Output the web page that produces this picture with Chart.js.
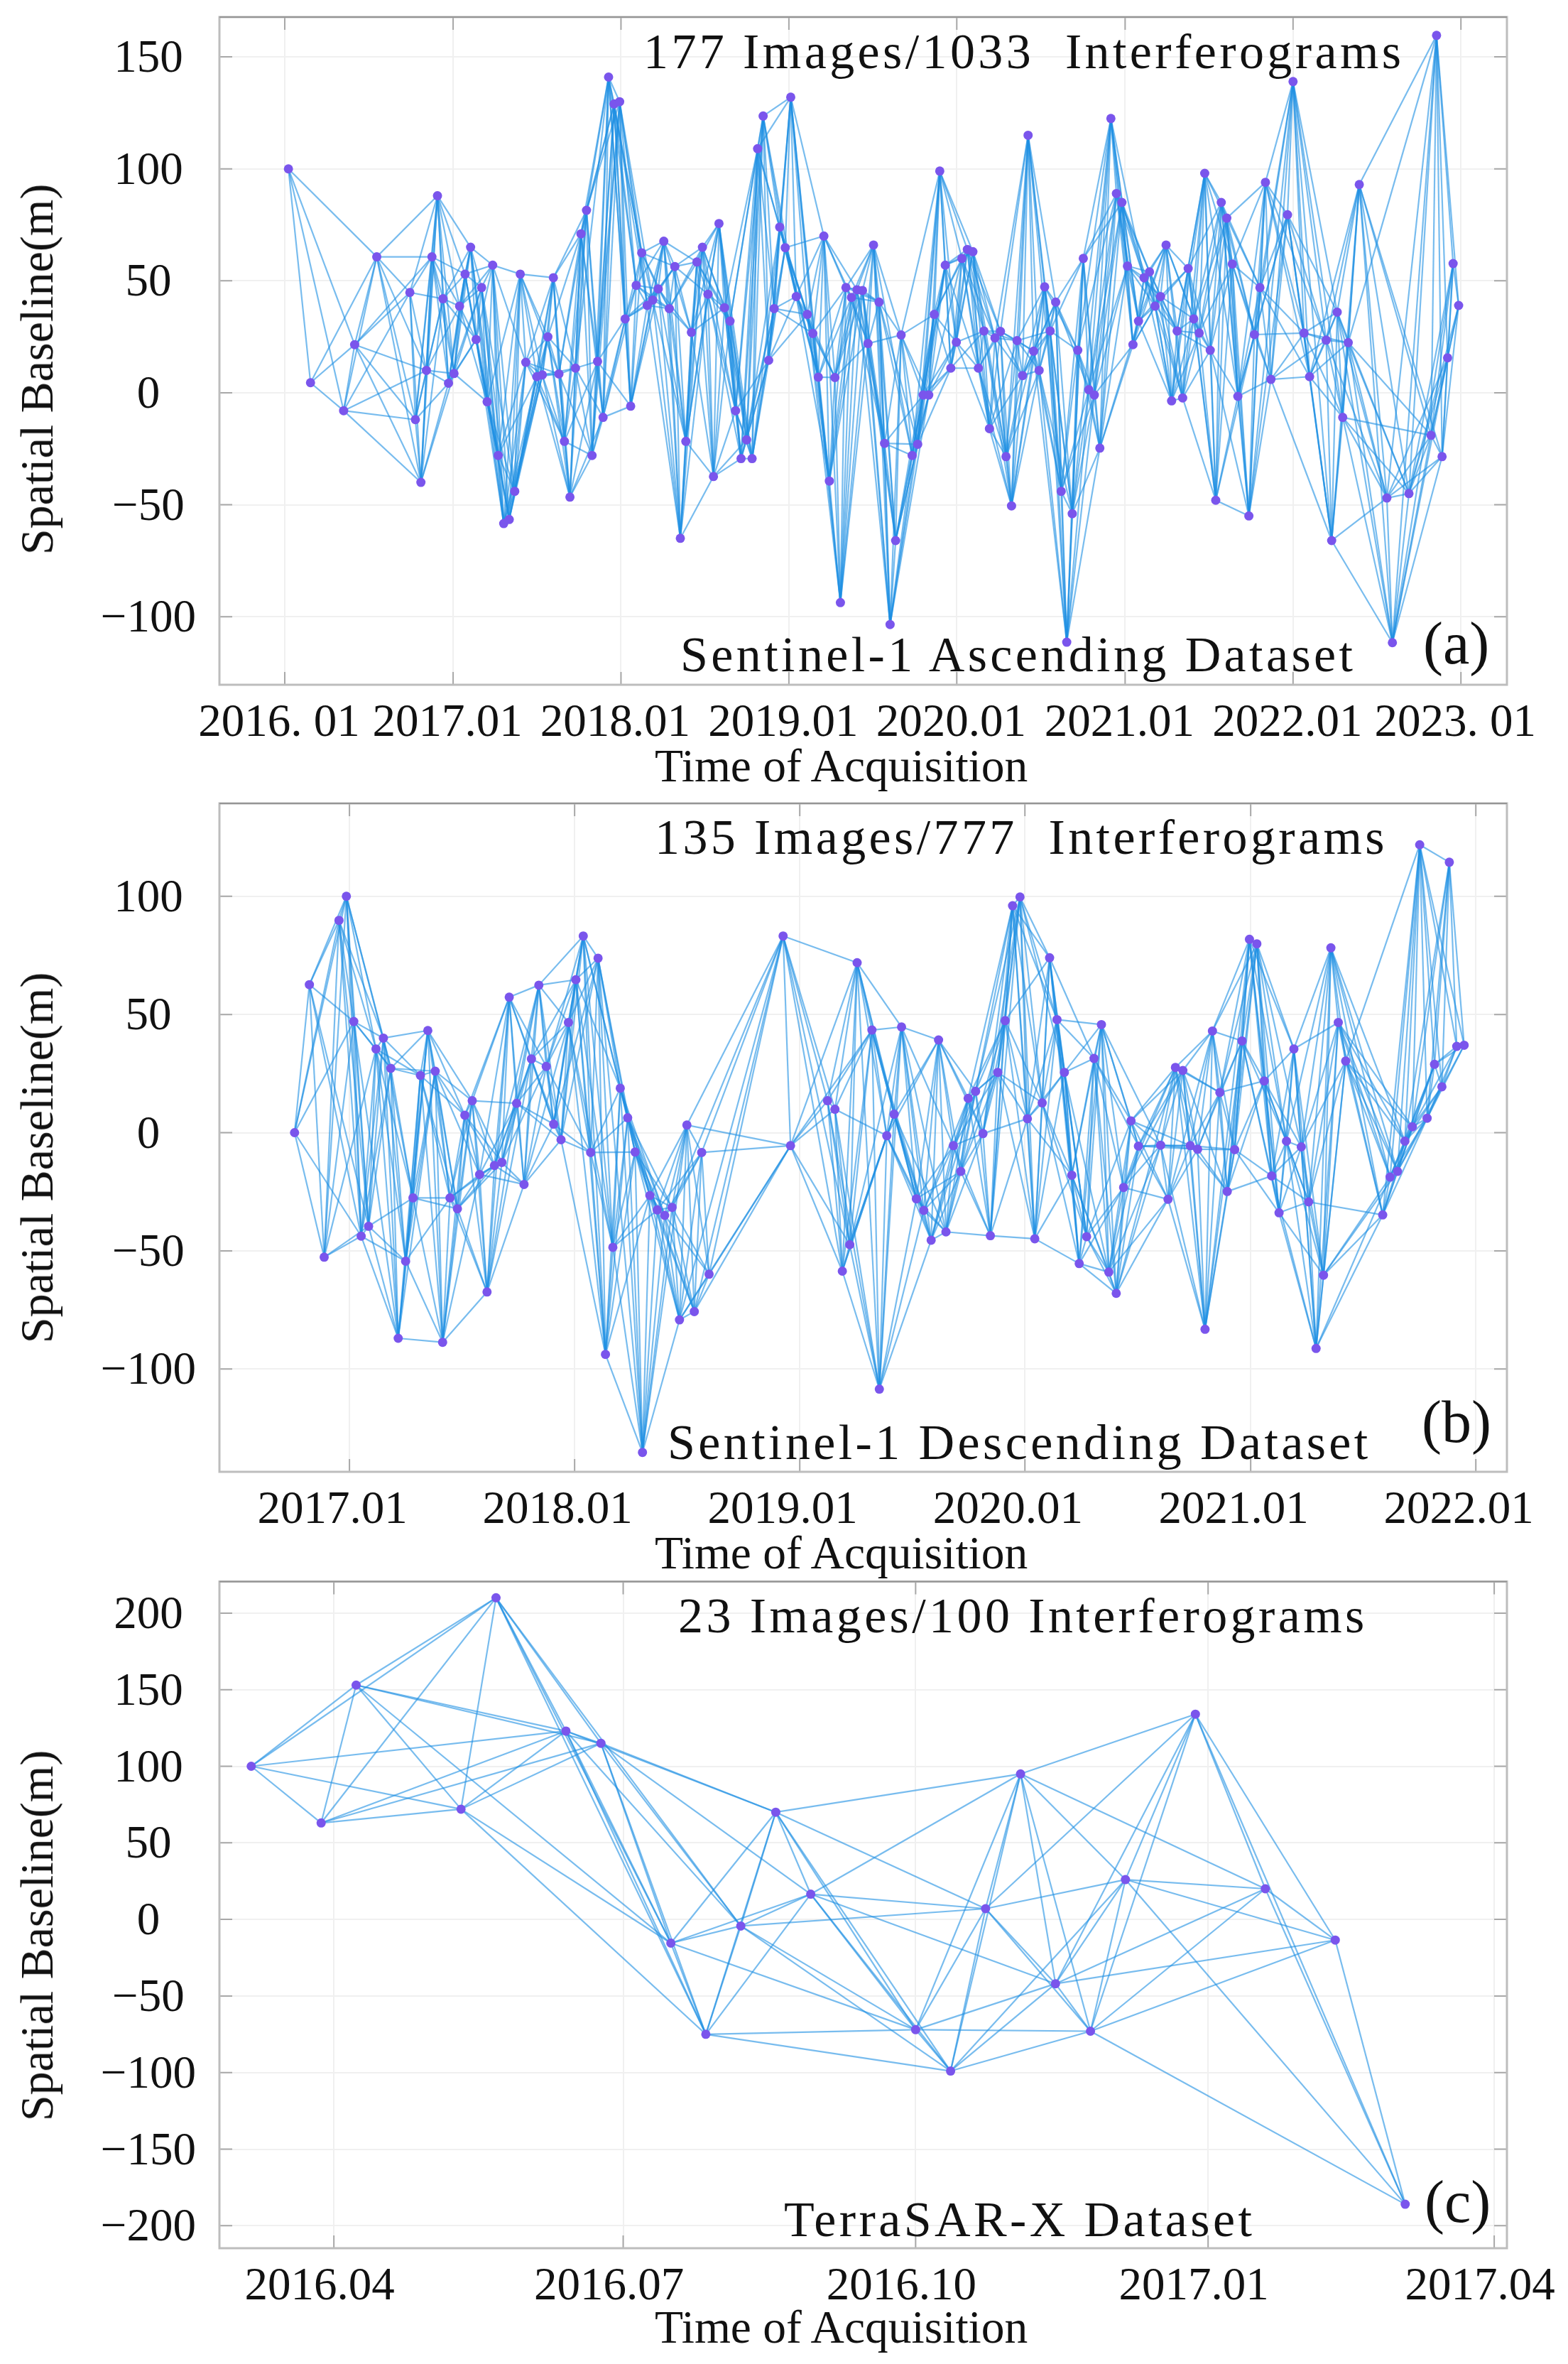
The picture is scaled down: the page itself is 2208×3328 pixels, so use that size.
<!DOCTYPE html>
<html>
<head>
<meta charset="utf-8">
<title>Spatial baseline networks</title>
<script src="https://cdn.jsdelivr.net/npm/chart.js@4/dist/chart.umd.min.js"></script>
<style>
  html, body { margin: 0; padding: 0; background: #fff; }
  #page { position: relative; width: 2208px; height: 3328px; overflow: hidden; font-family: "Liberation Serif", serif; color: #111; }
  canvas { position: absolute; left: 0; }
  .txt { position: absolute; white-space: pre; line-height: 1; }
  .head { font-size: 70px; letter-spacing: 4.4px; }
  .tag { font-size: 84px; }
  .xtitle { font-size: 65.5px; left: 922px; }
  .ytitle { transform: translate(-50%, -50%) rotate(-90deg); font-size: 66px; left: 52px; }
</style>
</head>
<body>
<div id="page">
  <canvas id="chartA" style="top:0" width="2208" height="1120"></canvas>
  <canvas id="chartB" style="top:1120px" width="2208" height="1100"></canvas>
  <canvas id="chartC" style="top:2220px" width="2208" height="1108"></canvas>

  <div class="txt head" style="left:906px;top:38px">177 Images/1033  Interferograms</div>
  <div class="txt head" style="left:958px;top:887px">Sentinel-1 Ascending Dataset</div>
  <div class="txt tag" style="left:2004px;top:864px">(a)</div>
  <div class="txt xtitle" style="top:1046px">Time of Acquisition</div>
  <div class="txt ytitle" style="top:520px">Spatial Baseline(m)</div>

  <div class="txt head" style="left:922px;top:1144px">135 Images/777  Interferograms</div>
  <div class="txt head" style="left:940px;top:1996px">Sentinel-1 Descending Dataset</div>
  <div class="txt tag" style="left:2002px;top:1960px">(b)</div>
  <div class="txt xtitle" style="top:2154px">Time of Acquisition</div>
  <div class="txt ytitle" style="top:1630px">Spatial Baseline(m)</div>

  <div class="txt head" style="left:955px;top:2240px">23 Images/100 Interferograms</div>
  <div class="txt head" style="left:1104px;top:3090px">TerraSAR-X Dataset</div>
  <div class="txt tag" style="left:2006px;top:3058px">(c)</div>
  <div class="txt xtitle" style="top:3244px">Time of Acquisition</div>
  <div class="txt ytitle" style="top:2725px">Spatial Baseline(m)</div>
</div>

<script>
  // acquisition dates are days since 2016-01-01, baselines are metres
  const daysA = [8,56,128,152,200,272,284,296,308,320,332,344,356,368,380,392,404,416,428,440,452,464,476,488,500,512,524,548,560,572,584,596,608,620,632,644,656,668,680,692,704,716,728,740,752,764,776,788,800,812,824,836,848,860,872,884,896,908,920,932,944,956,968,980,992,1004,1016,1028,1040,1052,1064,1076,
    1088,1100,1112,1136,1148,1160,1172,1184,1196,1208,1220,1232,1244,1256,1268,1280,1292,1304,1316,1328,1340,1364,1376,1388,1400,1412,1424,1436,1448,1460,1472,1484,1496,1508,1520,1532,1544,1556,1568,1580,1592,1604,1616,1628,1640,1652,1664,1676,1688,1700,1712,1724,1736,1748,1760,1772,1796,1808,1820,1832,1844,1856,1868,1880,1892,1904,1916,1928,1940,1952,1964,1976,1988,2000,2012,2024,2036,2048,2060,2072,2096,2108,2120,2132,2144,2180,2192,2216,2228,2264,2276,2288,2300,2312,2336,2396,2408,2444,2492,2504,2516,2528,2540,2552];
  const baselineA = [100,4.5,-8,21.5,60.7,44.8,-12,-40,10,60.7,88,42,4.3,8.6,38.7,53,65,23.8,47,-4,57,-28,-58.4,-56.6,-44,53,13.6,7.2,8,25,51.4,8.4,-21.7,-46.6,11,71,81.5,-28,14,-11,141,129,130,33,-6,48,62.5,39,41.4,46.4,67.7,37.6,56.4,-65,-21.7,27,58.4,65,44,-37.4,75.6,38,32,-8,-29.4,-21,-29.4,109,123.6,14.5,37.6,74,
    64.8,132,43,35,26.5,7,70,-39.4,6.8,-93.7,47,42.6,46,45.7,22,66,40.5,-22.6,-103.5,-66,25.8,-28,-23,-1,-1,35,99,57,11,22.6,60,64,63,11,27.6,-16,24.5,27.4,-28.5,-50.5,23.3,7.7,115,18.6,10,47.3,27.6,40.5,-44,-111.4,-54,19,60,1.4,-1,-24.7,122.5,89,85,56.6,21.5,32,51.4,54,38.7,43,66,-3.6,27.6,-2.3,55.5,33,26.7,98,19,-48,85,78,57.5,-1.6,-55,26,47,94,6,79.5,139,26.7,7.2,23.5,-66,36,-11,22.4,93,-47,-111.6,-45,-19,159.6,-28.5,15.6,57.7,39];
  const xTickDaysA = [0,366,731,1096,1461,1827,2192,2557];
  const xTickLabelsA = ['2016. 01','2017.01','2018.01','2019.01','2020.01','2021.01','2022.01','2023. 01'];
  const yTicksA = [-100,-50,0,50,100,150];

  const daysB = [277,301,325,349,361,373,385,397,409,421,433,445,457,469,481,493,505,517,529,541,553,565,577,589,601,613,625,637,649,661,673,685,697,709,721,733,745,757,769,781,793,805,817,829,841,853,865,877,889,901,913,925,937,949,
    1069,1081,1141,1153,1165,1177,1189,1213,1225,1237,1249,1261,1285,1297,1309,1321,1333,1345,1357,1369,1381,1393,1405,1417,1429,1441,1453,1465,1477,1489,1501,1513,1525,1537,1549,1561,1573,1585,1597,1609,1621,1633,1645,1681,1693,1705,1717,1729,1741,1753,1765,1777,1789,1801,1813,1825,1837,1849,1861,1873,1885,1897,1909,1921,1933,1945,1957,1969,1981,2041,2053,2065,2077,2089,2101,2113,2125,2137,2149,2161,2173];
  const baselineB = [0,62.6,-52.7,89.8,100,47,-43.8,-39.6,35.4,40,27.2,-87,-54.4,-27.6,24.2,43.2,26,-88.7,-27.6,-32.2,7.4,13.5,-17.7,-67.4,-13.9,-12.6,57.3,12.4,-21.9,31.2,62.4,28,3.6,-3,46.6,64.7,83.2,-8.4,73.8,-93.8,-48.5,18.8,6.3,-8.2,-135.3,-26.6,-32.7,-35,-31.6,-79.2,3.2,-75.7,-8.4,-59.9,
    83.2,-5.5,13.5,9.9,-58.6,-47.4,71.9,43.4,-108.5,-1.3,7.8,44.7,-28,-32.9,-45.5,39.2,-42,-5.5,-16.4,14.5,17.5,-0.4,-43.6,25.5,47.4,96,99.7,5.9,-44.9,12.6,74,47.8,25.5,-18,-55.4,-44,31.4,45.7,-59,-68,-23.2,5,-5.7,-5.3,-28.2,27.6,26.3,-5.5,-7,-83.2,43,17,-24.9,-7.2,38.8,81.8,79.9,21.9,-18.3,-33.9,-3.6,35.4,-6,-29.3,-91.3,-60.3,78.2,46.6,30.3,-34.8,-18.8,-16.4,-3.6,2.5,121.8,6.1,28.9,19.4,114.4,36.5,37];
  const xTickDaysB = [366,731,1096,1461,1827,2192];
  const xTickLabelsB = ['2017.01','2018.01','2019.01','2020.01','2021.01','2022.01'];
  const yTicksB = [-100,-50,0,50,100];

  const daysC = [65,87,98,131,142,164,175,197,208,219,230,241,274,285,296,307,318,329,340,362,384,406,428];
  const baselineC = [100,63,153,72,210,123,115,-15.5,-75,-4.3,70,16.5,-72,-99,7,95,-42,-73,26,134,20,-13.5,-186];
  const xTickDaysC = [91,182,274,366,456];
  const xTickLabelsC = ['2016.04','2016.07','2016.10','2017.01','2017.04'];
  const yTicksC = [-200,-150,-100,-50,0,50,100,150,200];

  const lineColor = 'rgba(30,144,226,0.6)';
  const pointColor = '#7a55ec';

  // every image is paired with the next few images, up to a longest time span in days
  function pairLines(days, baseline, nextImages, maxSpan) {
    const out = [];
    for (let i = 0; i < days.length; i++) {
      for (let j = i + 1; j <= i + nextImages && j < days.length; j++) {
        if (days[j] - days[i] > maxSpan) continue;
        out.push({
          type: 'line',
          data: [{x: days[i], y: baseline[i]}, {x: days[j], y: baseline[j]}],
          borderColor: lineColor,
          borderWidth: 2.2,
          pointRadius: 0,
          fill: false,
          tension: 0
        });
      }
    }
    return out;
  }

  // short ticks pointing into the plot on all four sides, then the frame
  const innerTicks = {
    id: 'innerTicks',
    afterDatasetsDraw(chart) {
      const {ctx, chartArea: a, scales} = chart;
      ctx.save();
      ctx.strokeStyle = '#a8a8a8';
      ctx.lineWidth = 2;
      ctx.beginPath();
      scales.x.ticks.forEach(t => {
        const px = scales.x.getPixelForValue(t.value);
        ctx.moveTo(px, a.top); ctx.lineTo(px, a.top + 18);
        ctx.moveTo(px, a.bottom); ctx.lineTo(px, a.bottom - 18);
      });
      scales.y.ticks.forEach(t => {
        const py = scales.y.getPixelForValue(t.value);
        ctx.moveTo(a.left, py); ctx.lineTo(a.left + 18, py);
        ctx.moveTo(a.right, py); ctx.lineTo(a.right - 18, py);
      });
      ctx.stroke();
      ctx.strokeStyle = '#bdbdbd';
      ctx.lineWidth = 3;
      ctx.strokeRect(a.left, a.top, a.right - a.left, a.bottom - a.top);
      ctx.strokeStyle = '#959595';
      ctx.lineWidth = 2;
      ctx.beginPath();
      ctx.moveTo(a.left, a.top); ctx.lineTo(a.right, a.top);
      ctx.stroke();
      ctx.restore();
    }
  };

  function noPadding(axis) {
    axis.paddingTop = axis.paddingBottom = axis.paddingLeft = axis.paddingRight = 0;
  }

  function makePanel(id, cfg) {
    const points = {
      type: 'scatter',
      data: cfg.days.map((d, i) => ({x: d, y: cfg.baseline[i]})),
      showLine: false,
      pointRadius: 6.5,
      pointBackgroundColor: pointColor,
      pointBorderWidth: 0
    };
    new Chart(document.getElementById(id), {
      type: 'scatter',
      data: {datasets: [points].concat(pairLines(cfg.days, cfg.baseline, cfg.nextImages, cfg.maxSpan))},
      options: {
        responsive: false,
        animation: false,
        events: [],
        layout: {padding: {top: cfg.top, right: 2208 - cfg.right, bottom: 0, left: 0}},
        plugins: {legend: {display: false}, tooltip: {enabled: false}},
        scales: {
          x: {
            type: 'linear',
            min: cfg.xMin,
            max: cfg.xMax,
            afterBuildTicks(axis) { axis.ticks = cfg.xTicks.map(v => ({value: v})); },
            afterFit(axis) { axis.height = cfg.height - cfg.bottom; noPadding(axis); },
            border: {display: false},
            grid: {color: '#f0f0f0', lineWidth: 2, drawTicks: false},
            ticks: {
              autoSkip: false,
              maxRotation: 0,
              padding: cfg.xPad,
              labelOffset: cfg.xLabelOffset,
              color: '#111',
              font: {family: 'Liberation Serif', size: 65},
              callback(v) { return cfg.xLabels[cfg.xTicks.indexOf(v)]; }
            }
          },
          y: {
            min: cfg.yMin,
            max: cfg.yMax,
            afterBuildTicks(axis) { axis.ticks = cfg.yTicks.map(v => ({value: v})); },
            afterFit(axis) { axis.width = 309; noPadding(axis); },
            border: {display: false},
            grid: {color: '#f0f0f0', lineWidth: 2, drawTicks: false},
            ticks: {
              crossAlign: 'center',
              padding: 33,
              labelOffset: 4,
              color: '#111',
              font: {family: 'Liberation Serif', size: 65},
              callback(v) { return String(v).replace('-', '\u2212'); }
            }
          }
        }
      },
      plugins: [innerTicks]
    });
  }

  makePanel('chartA', {days: daysA, baseline: baselineA, nextImages: 6, maxSpan: 200,
    xTicks: xTickDaysA, xLabels: xTickLabelsA, yTicks: yTicksA,
    xMin: -142, xMax: 2657, yMin: -130.4, yMax: 167.8,
    top: 24, bottom: 964, right: 2122, height: 1120, xPad: 16, xLabelOffset: -8});
  makePanel('chartB', {days: daysB, baseline: baselineB, nextImages: 6, maxSpan: 190,
    xTicks: xTickDaysB, xLabels: xTickLabelsB, yTicks: yTicksB,
    xMin: 155.2, xMax: 2242.4, yMin: -143.5, yMax: 139.3,
    top: 11, bottom: 952, right: 2122, height: 1100, xPad: 16, xLabelOffset: -24});
  makePanel('chartC', {days: daysC, baseline: baselineC, nextImages: 5, maxSpan: 400,
    xTicks: xTickDaysC, xLabels: xTickLabelsC, yTicks: yTicksC,
    xMin: 55, xMax: 460, yMin: -214.7, yMax: 220.6,
    top: 6, bottom: 945, right: 2122, height: 1108, xPad: 16, xLabelOffset: -20});
</script>
</body>
</html>
